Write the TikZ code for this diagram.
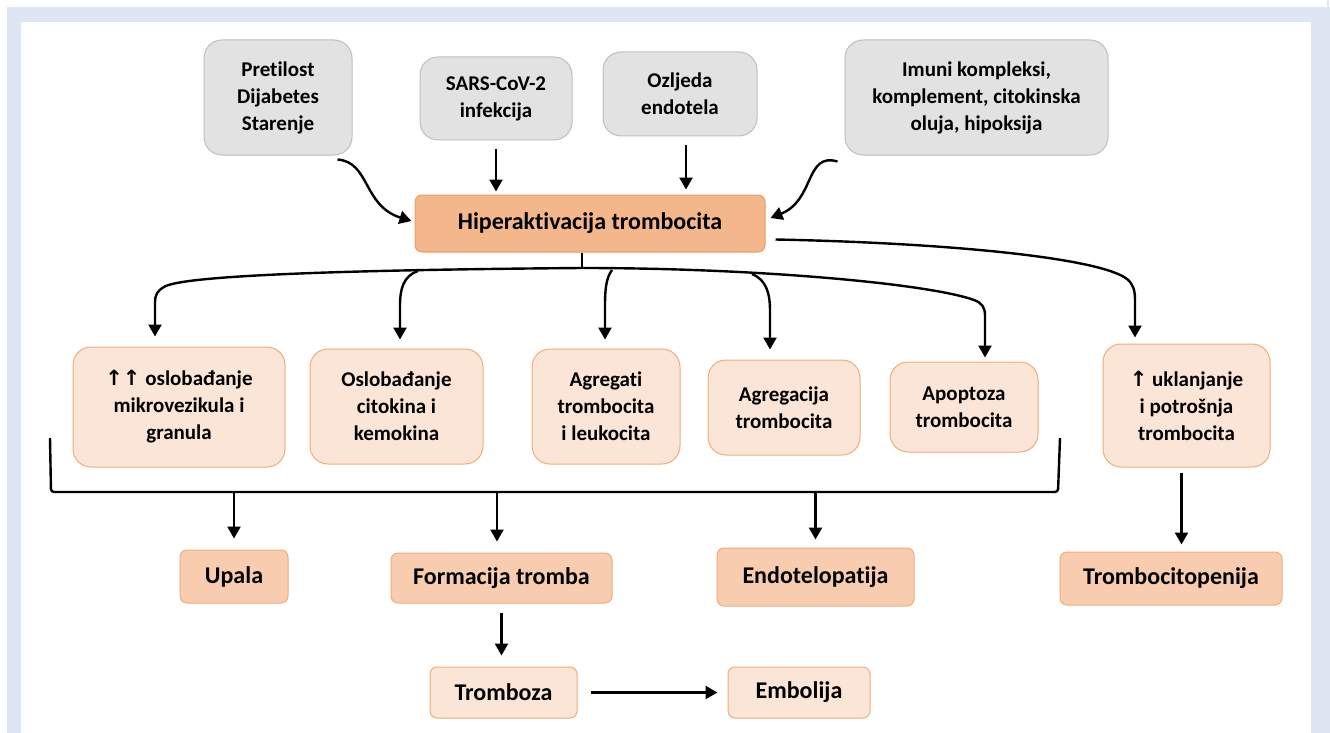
\documentclass[tikz,border=0pt]{standalone}
\usepackage{fontspec}
\setmainfont{Carlito}[Ligatures={NoCommon}]
\newfontfamily\symfont{DejaVu Sans}
\usetikzlibrary{arrows.meta}
\definecolor{bgblue}{HTML}{DFE6F3}
\definecolor{greyf}{HTML}{E2E2E2}
\definecolor{greyd}{HTML}{BFBFBF}
\definecolor{hfill}{HTML}{F4B78C}
\definecolor{hdraw}{HTML}{EE9A5E}
\definecolor{lightf}{HTML}{FBE5D7}
\definecolor{midf}{HTML}{F8CDAF}
\definecolor{orangeb}{HTML}{F3AC78}
\begin{document}
\begin{tikzpicture}[x=1pt,y=-1pt,
  box/.style={rounded corners=18pt, draw, line width=1pt, align=center, inner sep=0pt,
    font=\bfseries\fontsize{21}{27}\selectfont},
  greybox/.style={box, fill=greyf, draw=greyd},
  lightbox/.style={box, fill=lightf, draw=orangeb},
  midbox/.style={box, rounded corners=7pt, fill=midf, draw=orangeb,
    font=\bfseries\fontsize{24}{29}\selectfont},
  endbox/.style={box, rounded corners=7pt, fill=lightf, draw=orangeb,
    font=\bfseries\fontsize{24}{29}\selectfont},
  mainbox/.style={box, rounded corners=7pt, fill=hfill, draw=hdraw,
    font=\bfseries\fontsize{24}{29}\selectfont},
  arr/.style={line width=2.4pt, -{Triangle[width=13pt,length=12pt]}},
  conn/.style={line width=2.4pt},
]
\useasboundingbox (0,0) rectangle (1330,733);
\fill[bgblue] (7,7) rectangle (1330,733);
\fill[bgblue] (1327,0) rectangle (1329,7);
\fill[white] (21,22) rectangle (1311,733);

% top boxes
\node[greybox, minimum width=148pt, minimum height=115pt] (p1) at (278,97.5) {Pretilost\\Dijabetes\\Starenje};
\node[greybox, minimum width=152pt, minimum height=83pt] (p2) at (496,98.5) {SARS-CoV-2\\infekcija};
\node[greybox, minimum width=154pt, minimum height=84pt] (p3) at (680,94) {Ozljeda\\endotela};
\node[greybox, minimum width=263pt, minimum height=115pt] (p4) at (976.5,97.5) {Imuni kompleksi,\\komplement, citokinska\\oluja, hipoksija};

% main
\node[mainbox, minimum width=350pt, minimum height=57pt] (h) at (590,223.5) {Hiperaktivacija trombocita};

% middle row
\node[lightbox, minimum width=212pt, minimum height=120pt] (m1) at (179,407) {{\symfont ↑↑} oslobađanje\\mikrovezikula i\\granula};
\node[lightbox, minimum width=173pt, minimum height=115pt] (m2) at (396.5,406.5) {Oslobađanje\\citokina i\\kemokina};
\node[lightbox, minimum width=148pt, minimum height=115pt] (m3) at (606,406.5) {Agregati\\trombocita\\i leukocita};
\node[lightbox, minimum width=152pt, minimum height=95pt] (m4) at (784,407.5) {Agregacija\\trombocita};
\node[lightbox, minimum width=148pt, minimum height=90pt] (m5) at (964,407) {Apoptoza\\trombocita};
\node[lightbox, minimum width=167pt, minimum height=123pt] (f) at (1186.5,405.5) {{\symfont ↑} uklanjanje\\i potrošnja\\trombocita};

% outcome row
\node[midbox, minimum width=108pt, minimum height=53pt] (o1) at (234,576.5) {Upala};
\node[midbox, minimum width=221pt, minimum height=50pt] (o2) at (501.5,578) {Formacija tromba};
\node[midbox, minimum width=197pt, minimum height=58pt] (o3) at (815.5,577) {Endotelopatija};
\node[midbox, minimum width=222pt, minimum height=53pt] (o4) at (1171,578.5) {Trombocitopenija};

% bottom
\node[endbox, minimum width=147pt, minimum height=51pt] (t) at (503.5,692.5) {Tromboza};
\node[endbox, minimum width=142pt, minimum height=51pt] (e) at (799,692.5) {Embolija};

% inputs to main
\draw[arr] ([xshift=-15pt,yshift=-4pt]p1.south east) .. controls (370,162) and (363,206) .. ([xshift=-3pt,yshift=2.5pt]h.west);
\draw[arr] ([yshift=-8pt]p2.south) -- ([yshift=3pt]p2.south |- h.north);
\draw[arr] ([xshift=6pt,yshift=-9pt]p3.south) -- ([xshift=6pt,yshift=5pt]p3.south |- h.north);
\draw[arr] ([xshift=-7pt,yshift=-6pt]p4.south west) .. controls (805,152) and (815,200) .. ([xshift=5pt,yshift=5.5pt]h.east);

% fan out
\coordinate (fan) at (582,268);
\draw[conn] ([xshift=-8pt]h.south) -- (fan);
\draw[arr] (fan) .. controls (330,270) and (180,276) .. (164,287) .. controls (157,291) and (155,295) .. (155,303) -- ([xshift=-24pt,yshift=10pt]m1.north);
\draw[arr] (fan) .. controls (760,268) and (930,284) .. (974,300) .. controls (982,303) and (985,307) .. (985,316) -- ([xshift=21pt,yshift=4pt]m5.north);
\draw[arr] (418,271) .. controls (403,276) and (400,290) .. (400,305) -- ([xshift=3.5pt,yshift=9pt]m2.north);
\draw[arr] (612,270) .. controls (606,278) and (605,290) .. (605,305) -- ([xshift=-1pt,yshift=9pt]m3.north);
\draw[arr] (752,274) .. controls (767,280) and (770,295) .. (770,310) -- ([xshift=-14pt,yshift=10pt]m4.north);

% to removal
\draw[arr] ([xshift=10pt,yshift=-16pt]h.east) .. controls (950,243) and (1100,258) .. (1127,279) .. controls (1133,284) and (1135,290) .. (1135,300) -- ([xshift=-51.5pt,yshift=6pt]f.north);

% bracket
\coordinate (brL) at (50,438);
\coordinate (brR) at (1060,438);
\coordinate (brB) at (0,492);
\draw[conn, rounded corners=3pt] (brL) -- (51,492) -- (1058,492) -- (brR);
\draw[arr] (o1.north |- brB) -- ([yshift=11pt]o1.north);
\draw[arr] ([xshift=-4.5pt]o2.north |- brB) -- ([xshift=-4.5pt,yshift=11pt]o2.north);
\draw[arr] (o3.north |- brB) -- ([yshift=8pt]o3.north);

\draw[arr] ([xshift=-5pt,yshift=-5pt]f.south) -- ([xshift=-5pt,yshift=7pt]f.south |- o4.north);
\draw[arr] ([yshift=-9pt]o2.south) -- ([yshift=11pt]o2.south |- t.north);
\draw[arr] ([xshift=13pt]t.east) -- ([xshift=-10pt]e.west);
\end{tikzpicture}
\end{document}
